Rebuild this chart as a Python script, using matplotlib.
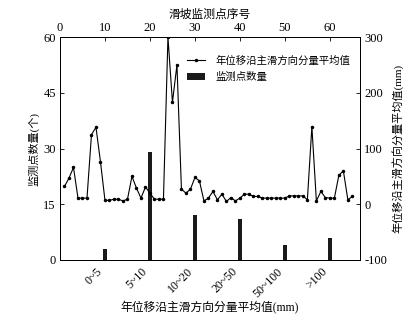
import matplotlib
matplotlib.use("Agg")
import matplotlib.pyplot as plt
import matplotlib.transforms as mtransforms

# fonts: serif numbers, CJK fallback for the Chinese text
FONT = ["Liberation Serif", "Noto Sans CJK SC"]
plt.rcParams["font.family"] = FONT
plt.rcParams["axes.unicode_minus"] = False

# ── data ────────────────────────────────────────────────────
# bar chart: number of monitoring points per displacement class
classes = ["0~5", "5~10", "10~20", "20~50", "50~100", ">100"]
class_pos = [10, 20, 30, 40, 50, 60]          # placed on the top (point-index) scale
counts = [3, 29, 12, 11, 4, 6]

# line: mean annual displacement along main sliding direction, per point
point_no = list(range(1, 66))
mean_disp = [32, 47, 66, 11, 11, 11, 125, 138, 76, 7,
             7, 9, 9, 6, 9, 50, 29, 11, 31, 20,
             9, 9, 9, 300, 183, 250, 27, 20, 27, 48,
             42, 6, 11, 23, 8, 18, 5, 12, 6, 11,
             18, 18, 14, 14, 11, 11, 11, 11, 11, 11,
             15, 15, 15, 15, 8, 139, 6, 23, 12, 11,
             11, 52, 60, 8, 14]

fig = plt.figure(figsize=(4.19, 3.18), dpi=100)
ax = fig.add_axes([0.1432, 0.1824, 0.7160, 0.7012])
ax2 = ax.twinx()

# bars on the left axis
bars = ax.bar(class_pos, counts, width=0.9, color="#1a1a1a", zorder=2,
              label="监测点数量")
ax.set_xlim(0, 66.7)
ax.set_ylim(0, 60)
ax.set_yticks([0, 15, 30, 45, 60])

# line on the right axis
line, = ax2.plot(point_no, mean_disp, color="black", lw=0.8, marker=".",
                 ms=3, label="年位移沿主滑方向分量平均值", zorder=3)
ax2.set_ylim(-100, 300)
ax2.set_yticks([-100, 0, 100, 200, 300])

# bottom category labels
ax.set_xticks(class_pos)
ax.set_xticklabels(classes, rotation=45, ha="right", fontsize=8.5)
shift = mtransforms.ScaledTranslation(-0.13, 0, fig.dpi_scale_trans)
for lab in ax.get_xticklabels():
    lab.set_transform(lab.get_transform() + shift)

# top axis: point index
top = ax.secondary_xaxis("top")
top.set_xticks([0, 10, 20, 30, 40, 50, 60])
top.tick_params(direction="in", length=3, width=0.6, labelsize=9, pad=2)
top.set_xlabel("滑坡监测点序号", fontsize=8.5, labelpad=3)

ax.tick_params(axis="y", direction="in", length=3, width=0.6, labelsize=9, pad=3)
ax.tick_params(axis="x", direction="in", length=0, labelsize=8.5, pad=4)
ax2.tick_params(axis="y", direction="in", length=3, width=0.6, labelsize=9, pad=3)

ax.set_ylabel("监测点数量(个)", fontsize=8, labelpad=3)
ax2.set_ylabel("年位移沿主滑方向分量平均值(mm)", fontsize=8, labelpad=4)
ax.set_xlabel("年位移沿主滑方向分量平均值(mm)", fontsize=8.5, labelpad=1)

for a in (ax, ax2):
    for s in a.spines.values():
        s.set_linewidth(0.7)
top.spines["top"].set_linewidth(0.7)

ax2.legend([line, bars], [line.get_label(), bars.get_label()],
           loc="upper right", bbox_to_anchor=(1.0, 0.96), frameon=False,
           fontsize=7.5, handlelength=1.8, handletextpad=1.0,
           labelspacing=0.6)

fig.savefig("out.png", dpi=100)
